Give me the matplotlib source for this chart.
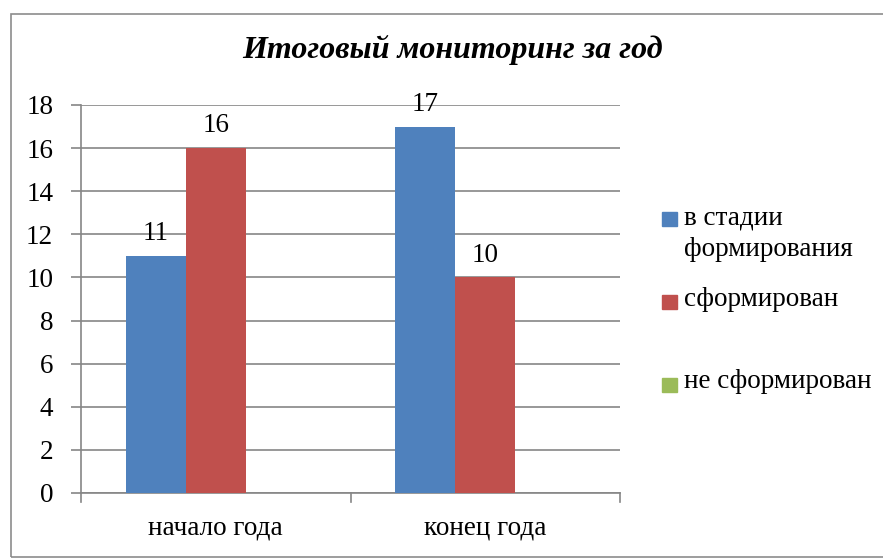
import matplotlib
matplotlib.use("Agg")
import matplotlib.pyplot as plt
from matplotlib.patches import Rectangle
import numpy as np

categories = ["начало года", "конец года"]
series_names = ["в стадии\nформирования", "сформирован", "не сформирован"]
in_progress = [11, 17]
formed = [16, 10]
not_formed = [0, 0]
colors = ["#4F81BD", "#C0504D", "#9BBB59"]
yticks = [0, 2, 4, 6, 8, 10, 12, 14, 16, 18]

plt.rcParams['font.family'] = ['Liberation Serif', 'DejaVu Serif']
FS = 19.5

W, H = 883, 558
fig = plt.figure(figsize=(W/100, H/100), dpi=100)
# outer border
fig.patches.append(Rectangle((11/W, 1 - 557/H), (890-11)/W, (557-14)/H,
                             transform=fig.transFigure, fill=False,
                             edgecolor="#8c8c8c", linewidth=1.2))

x0, x1, yt, yb = 81, 620, 105, 493
ax = fig.add_axes([x0/W, 1 - yb/H, (x1-x0)/W, (yb-yt)/H])

n = len(categories)
x = np.arange(n)
bw = 1.0 / (3 + 1.5)
data = [in_progress, formed, not_formed]
for i, (vals, c, name) in enumerate(zip(data, colors, series_names)):
    pos = x + (i - 1) * bw
    ax.bar(pos, vals, width=bw, color=c, label=name, zorder=3)
    for p, v in zip(pos, vals):
        if v:
            ax.text(p, v + 0.45, str(v), ha="center", va="bottom", fontsize=FS)

ax.set_xlim(-0.5, n - 0.5)
ax.set_ylim(0, 18)
ax.set_yticks(yticks)
ax.set_yticklabels([str(t) for t in yticks], fontsize=FS)
ax.yaxis.grid(True, color="#868686", linewidth=1.2, zorder=0)
ax.set_xticks([])
for xb in [-0.5, 0.5, 1.5]:
    ax.plot([xb, xb], [0, -0.4], color="#868686", lw=1.2, clip_on=False, zorder=4)
for i, c in enumerate(categories):
    ax.text(i, -1.62, c, ha="center", va="center", fontsize=FS)
for s in ["top", "right"]:
    ax.spines[s].set_visible(False)
for s in ["left", "bottom"]:
    ax.spines[s].set_color("#868686")
    ax.spines[s].set_linewidth(1.2)
ax.tick_params(axis="y", length=7, color="#868686", width=1.2, pad=13)

fig.text(453/W, 1 - 50/H, "Итоговый мониторинг за год", ha="center", va="center",
         fontsize=23, fontweight="bold", fontstyle="italic")

# legend
for yc, ci in [(219, 0), (302, 1), (385, 2)]:
    fig.patches.append(Rectangle((662/W, 1 - (yc + 7)/H), 15/W, 14/H,
                                 transform=fig.transFigure, color=colors[ci]))
fig.text(684/W, 1 - 218/H, "в стадии", ha="left", va="center", fontsize=FS)
fig.text(684/W, 1 - 249/H, "формирования", ha="left", va="center", fontsize=FS)
fig.text(684/W, 1 - 300/H, "сформирован", ha="left", va="center", fontsize=FS)
fig.text(684/W, 1 - 381/H, "не сформирован", ha="left", va="center", fontsize=FS)

fig.savefig("out.png", dpi=100)
